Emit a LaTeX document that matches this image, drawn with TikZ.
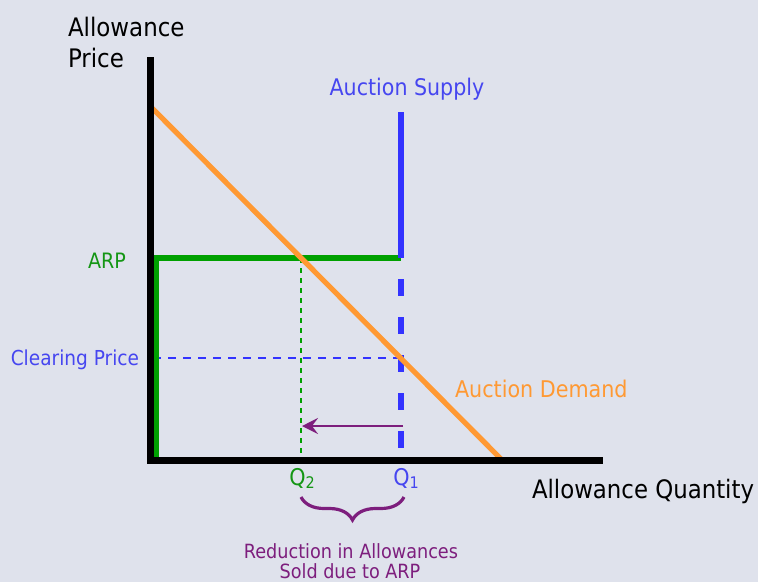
\documentclass[tikz,border=0pt]{standalone}
\usepackage{fontspec}
\setmainfont{DejaVu Sans Condensed}
\usetikzlibrary{arrows.meta,decorations.pathreplacing}
\definecolor{bg}{RGB}{223,226,236}
\definecolor{demand}{RGB}{255,153,51}
\definecolor{supply}{RGB}{51,51,255}
\definecolor{supplytext}{RGB}{70,70,240}
\definecolor{arp}{RGB}{0,160,0}
\definecolor{arptext}{RGB}{20,150,20}
\definecolor{redu}{RGB}{125,30,125}
\tikzset{
  lbl/.style={inner sep=0pt, outer sep=0pt},
  axisline/.style={line width=7pt, black},
  demandline/.style={line width=5.2pt, demand},
  supplyline/.style={line width=6.5pt, supply},
  arpline/.style={line width=6pt, arp},
  guideblue/.style={line width=2.4pt, supply, dash pattern=on 8pt off 7pt},
  guidegreen/.style={line width=2.4pt, arp, dash pattern=on 5pt off 5pt},
}
\newcommand{\fsz}[1]{\fontsize{#1}{#1}\selectfont}
\begin{document}
\begin{tikzpicture}[x=1pt,y=-1pt]
\fill[bg] (0,0) rectangle (758,582);
\useasboundingbox (0,0) rectangle (758,582);
% coordinates
\coordinate (ytop) at (150,57);
\coordinate (origin) at (150,460);
\coordinate (xend) at (603,460);
\coordinate (dtop) at (152,108);
\coordinate (dbot) at (502,460);
\coordinate (stop) at (401,112);
\coordinate (sarp) at (401,258);
\coordinate (sbot) at (401,460);
\coordinate (arpl) at (156,258);
\coordinate (arpbot) at (156,457);
\coordinate (q2top) at (301,258);
\coordinate (q2bot) at (301,457);
\coordinate (cpl) at (153,358);
\coordinate (cpr) at (401,358);
\coordinate (arrs) at (403,426);
\coordinate (arre) at (302,426);
\coordinate (brl) at (301,497);
\coordinate (brr) at (404,497);
% guides
\draw[guidegreen] (q2top) -- (q2bot);
\draw[guideblue] (cpl) -- (cpr);
% green ARP
\draw[arpline, line cap=butt] (arpbot) -- (arpl) -- (sarp);
% supply
\draw[supplyline] (stop) -- (sarp);
\draw[supplyline, dash pattern=on 17pt off 21pt, dash phase=17pt] (sarp) -- (sbot);
% demand
\draw[demandline] (dtop) -- (dbot);
% axes
\draw[axisline, line join=miter] (ytop) -- (origin) -- (xend);
% arrow
\draw[line width=2.6pt, redu, -{Stealth[length=16pt,width=16pt,inset=6pt]}] (arrs) -- (arre);
% brace
\draw[line width=3.2pt, redu, decorate, decoration={brace, mirror, amplitude=23pt, raise=0pt}] (brl) -- (brr);
% labels
\node[lbl, anchor=base west, font=\fsz{25.5}] (ylab1) at (68,36) {Allowance};
\node[lbl, anchor=base west, font=\fsz{25.5}] (ylab2) at (68,67) {Price};
\node[lbl, anchor=base, font=\fsz{22.9}, text=supplytext] (suplab) at (407,95) {Auction Supply};
\node[lbl, anchor=base east, font=\fsz{21.2}, text=arptext] (arplab) at (126,268) {ARP};
\node[lbl, anchor=base east, font=\fsz{20.6}, text=supplytext] (cplab) at (139,365) {Clearing Price};
\node[lbl, anchor=base west, font=\fsz{23}, text=demand] (dlab) at (455,397) {Auction Demand};
\node[lbl, anchor=base west, font=\fsz{25.4}] (xlab) at (532,498) {Allowance Quantity};
\node[lbl, anchor=base, font=\fsz{23}, text=arptext] (q2lab) at (302,485) {Q{\fsz{16}\raisebox{-3pt}{2}}};
\node[lbl, anchor=base, font=\fsz{23}, text=supplytext] (q1lab) at (406,485) {Q{\fsz{16}\raisebox{-3pt}{1}}};
\node[lbl, anchor=base, font=\fsz{19.6}, text=redu] (red1) at (351,558) {Reduction in Allowances};
\node[lbl, anchor=base, font=\fsz{19.6}, text=redu] (red2) at (350,578) {Sold due to ARP};
\end{tikzpicture}
\end{document}
